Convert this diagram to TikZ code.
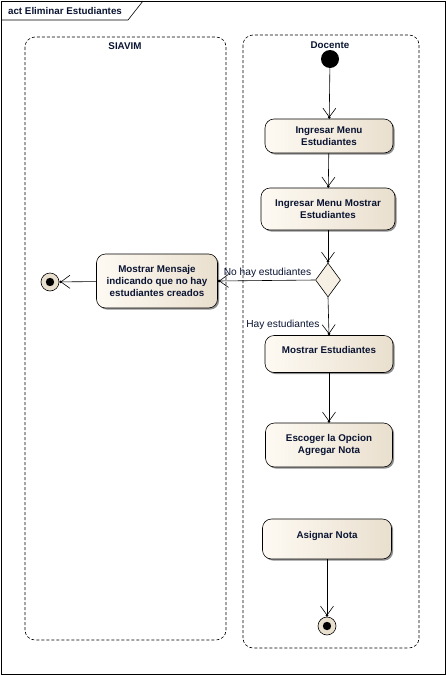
\documentclass[tikz,border=0pt]{standalone}
\usepackage{fontspec}
\setmainfont{Liberation Sans}
\usetikzlibrary{arrows.meta,shapes.geometric,shadows}

\definecolor{actleft}{RGB}{254,250,243}
\definecolor{actright}{RGB}{233,223,206}
\definecolor{txt}{RGB}{10,20,50}

\tikzset{every node/.style={text=txt}}
\tikzstyle{act} = [draw, semithick, rounded corners=9pt, left color=actleft, right color=actright, drop shadow={shadow xshift=1.6pt,shadow yshift=-1.6pt,fill=black!55,opacity=.8}, font=\bfseries\fontsize{9.8}{12}\selectfont, align=center, inner sep=0pt]
\tikzstyle{flow} = [draw, semithick, -{Straight Barb[length=9pt,width=13pt,sep=-1.5pt] Circle[length=2.6pt]}]
\tikzstyle{lane} = [draw, semithick, dash pattern=on 3pt off 2pt, rounded corners=10pt]
\tikzstyle{guard} = [font=\fontsize{10.2}{12}\selectfont, inner sep=2pt]
\tikzstyle{heading} = [font=\bfseries\fontsize{9.8}{12}\selectfont]
\tikzstyle{oneline} = [text depth=8pt]

\begin{document}
\begin{tikzpicture}[x=1pt,y=-1pt,
  start/.style={circle,fill=black,minimum size=18pt,inner sep=0pt},
  final/.style={circle,draw,semithick,fill=actright,minimum size=18pt,inner sep=0pt},
  decision/.style={diamond,draw,semithick,fill=actleft!60!actright,minimum width=25pt,minimum height=34pt,inner sep=0pt}]
\useasboundingbox (0,0) rectangle (446,675);
% frame and title tab
\draw [semithick] (1,1) rectangle (445,674);
\draw [semithick] (1,20) -- (128,20) -- (143,1);
\node (title) at (65,10.5) [heading] {act Eliminar Estudiantes};
% partitions
\draw [lane] (25,37) rectangle (226,640);
\draw [lane] (243,35) rectangle (419,648);
\node (siavim) at (125,46) [heading] {SIAVIM};
\node (docente) at (330,45) [heading] {Docente};
% nodes
\node (ini) at (330,59) [start] {};
\node (menu) at (329,136) [act,minimum width=128pt,minimum height=34pt] {Ingresar Menu\\Estudiantes};
\node (mostrarmenu) at (328,209) [act,minimum width=134pt,minimum height=42pt] {Ingresar Menu Mostrar\\Estudiantes};
\node (dec) at (328,280) [decision] {};
\node (mensaje) at (157,281) [act,minimum width=121pt,minimum height=54pt] {Mostrar Mensaje\\indicando que no hay\\estudiantes creados};
\node (finizq) at (50,282) [final] {};
\fill (finizq.center) circle (4.2pt);
\node (mostrar) at (329,354) [act,oneline,minimum width=128pt,minimum height=37pt] {Mostrar Estudiantes};
\node (escoger) at (329,445) [act,minimum width=127pt,minimum height=44pt] {Escoger la Opcion\\Agregar Nota};
\node (asignar) at (327,539) [act,oneline,minimum width=129pt,minimum height=40pt] {Asignar Nota};
\node (finder) at (327,626) [final] {};
\fill (finder.center) circle (4.2pt);
% flows
\draw [flow] (ini) -- (menu);
\draw [flow] (menu) -- (mostrarmenu);
\draw [flow] (mostrarmenu) -- (dec);
\draw [flow] (dec.west) -- (mensaje.east) node [guard,pos=.49,above=1pt] {No hay estudiantes};
\draw [flow] (dec.south) -- (mostrar.north) node [guard,pos=.72,left=7pt] {Hay estudiantes};
\draw [flow] (mensaje) -- (finizq);
\draw [flow] (mostrar) -- (escoger);
\draw [flow] (asignar) -- (finder);
\end{tikzpicture}
\end{document}
